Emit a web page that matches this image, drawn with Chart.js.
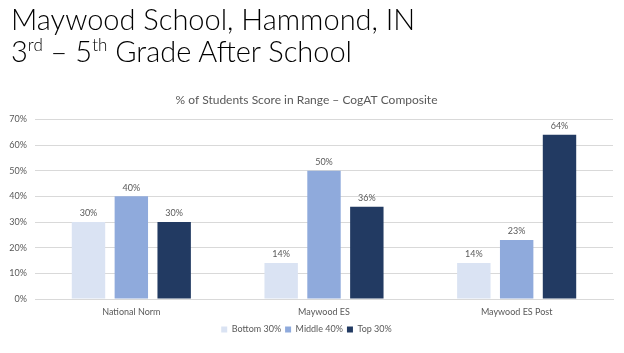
<!DOCTYPE html>
<html>
<head>
<meta charset="utf-8">
<script src="https://cdn.jsdelivr.net/npm/chart.js@4/dist/chart.umd.min.js"></script>
<style>
  html, body { margin: 0; padding: 0; background: #fff; }
  #wrap { position: relative; width: 624px; height: 353px; overflow: hidden; }
  #head { position: absolute; left: 11px; top: 3px; font-family: Lato, "Open Sans", sans-serif; font-weight: 300;
          font-size: 29px; line-height: 32px; color: #000; white-space: nowrap; }
  #head sup { font-size: 17px; vertical-align: 11px; line-height: 0; }
  canvas { position: absolute; left: 0; top: 0; }
</style>
</head>
<body>
<div id="wrap">
  <canvas id="myChart" width="624" height="353"></canvas>
  <div id="head">Maywood School, Hammond, IN<br>3<sup>rd</sup> – 5<sup>th</sup> Grade After School</div>
</div>
<script>
// categories and series
const categories = ['National Norm', 'Maywood ES', 'Maywood ES Post'];
const bottom30 = [0.30, 0.14, 0.14];
const middle40 = [0.40, 0.50, 0.23];
const top30 = [0.30, 0.36, 0.64];
const seriesNames = ['Bottom 30%', 'Middle 40%', 'Top 30%'];
const yTicks = [0, 0.1, 0.2, 0.3, 0.4, 0.5, 0.6, 0.7];

const grey = '#595959';
const font = 'Lato, "Open Sans", sans-serif';

// value labels above each bar
const barLabels = {
    id: 'barLabels',
    afterDatasetsDraw(chart) {
        const ctx = chart.ctx;
        ctx.save();
        ctx.font = '9px ' + font;
        ctx.fillStyle = grey;
        ctx.textAlign = 'center';
        ctx.textBaseline = 'bottom';
        chart.data.datasets.forEach((ds, i) => {
            chart.getDatasetMeta(i).data.forEach((bar, j) => {
                ctx.fillText(Math.round(ds.data[j] * 100) + '%', bar.x, bar.y - 4);
            });
        });
        ctx.restore();
    }
};

const ctx = document.getElementById('myChart').getContext('2d');

const config = {
    type: 'bar',
    data: {
        labels: categories,
        datasets: [
            { label: seriesNames[0], data: bottom30, backgroundColor: '#DAE3F3' },
            { label: seriesNames[1], data: middle40, backgroundColor: '#8FAADC' },
            { label: seriesNames[2], data: top30, backgroundColor: '#223A62' }
        ]
    },
    options: {
        responsive: false,
        animation: false,
        maintainAspectRatio: false,
        layout: { padding: { top: 89, left: 0, right: 11, bottom: 9 } },
        datasets: { bar: { categoryPercentage: 0.667, barPercentage: 0.78 } },
        plugins: {
            title: {
                display: true,
                text: '% of Students Score in Range – CogAT Composite',
                color: grey,
                font: { family: font, size: 12, weight: 'normal' },
                padding: { top: 4, bottom: 12 }
            },
            legend: {
                position: 'bottom',
                labels: {
                    color: grey,
                    font: { family: font, size: 9 },
                    boxWidth: 6,
                    boxHeight: 6,
                    padding: 4
                }
            },
            tooltip: { enabled: false }
        },
        scales: {
            x: {
                grid: { display: false },
                border: { color: '#D9D9D9' },
                afterFit(scale) { scale.height = 22; },
                ticks: { color: grey, font: { family: font, size: 9 }, padding: 0 }
            },
            y: {
                min: 0,
                max: 0.7,
                afterFit(scale) { scale.width = 35; },
                afterBuildTicks(scale) { scale.ticks = yTicks.map(v => ({ value: v })); },
                grid: { color: '#D9D9D9', drawTicks: false },
                border: { display: false },
                ticks: {
                    color: grey,
                    font: { family: font, size: 9 },
                    padding: 8,
                    callback: v => Math.round(v * 100) + '%'
                }
            }
        }
    },
    plugins: [barLabels]
};

const myChart = new Chart(ctx, config);
</script>
</body>
</html>
